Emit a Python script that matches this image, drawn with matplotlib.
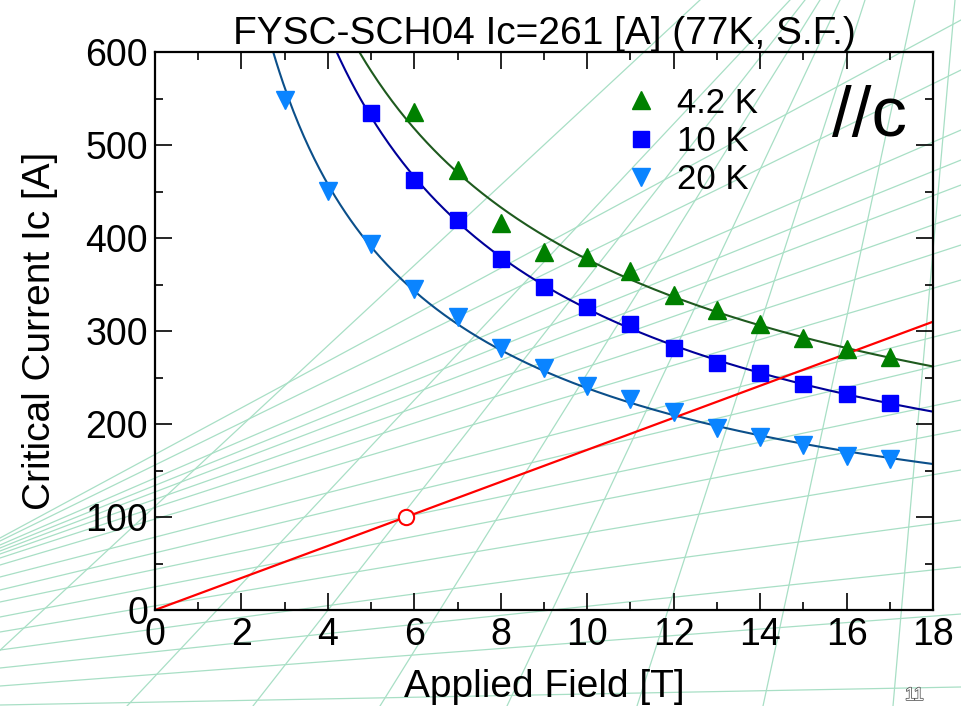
import matplotlib.pyplot as plt
import matplotlib.patheffects as pe
import numpy as np

plt.rcParams['font.family'] = ['Liberation Sans', 'DejaVu Sans']

# Ic(B) measurements, FYSC-SCH04, B // c
field_42 = [6, 7, 8, 9, 10, 11, 12, 13, 14, 15, 16, 17]
ic_42 = [535, 473, 416, 385, 380, 364, 339, 323, 307, 292, 281, 272]

field_10 = [5, 6, 7, 8, 9, 10, 11, 12, 13, 14, 15, 16, 17]
ic_10 = [534, 462, 419, 377, 347, 326, 308, 282, 266, 255, 243, 232, 223]

field_20 = [3, 4, 5, 6, 7, 8, 9, 10, 11, 12, 13, 14, 15, 16, 17]
ic_20 = [548, 451, 394, 345, 315, 282, 260, 241, 227, 213, 196, 186, 177, 166, 162]

# load line and operating point
load_field = [0, 18]
load_ic = [0, 310]
op_field = [5.8]
op_ic = [100]

# slide background grid (pixel coords of the 961x706 canvas)
grid_a_left = [538, 541, 545, 548, 551, 554, 558, 565, 577, 590, 602, 617, 632, 650, 668, 686, 705]
grid_a_right = [20, 70, 130, 160, 185, 215, 245, 280, 330, 360, 400, 430, 470, 520, 567, 614, 687]
grid_b_bottom = [-60, 127, 253, 380, 507, 637, 763, 893]
grid_b_top = [700, 790, 805, 820, 840, 865, 915, 955]

fig = plt.figure(figsize=(9.61, 7.06), dpi=100)

bg = fig.add_axes([0, 0, 1, 1], zorder=-1)
bg.set_xlim(0, 961)
bg.set_ylim(706, 0)
bg.axis('off')
for yl, yr in zip(grid_a_left, grid_a_right):
    bg.plot([0, 961], [yl, yr], color='#a8dfc5', lw=0.9)
for xb, xt in zip(grid_b_bottom, grid_b_top):
    bg.plot([xb, xt], [706, 0], color='#a8dfc5', lw=0.9)
bg.text(905, 704, '11', fontsize=13, color='white', va='bottom', ha='left',
        path_effects=[pe.withStroke(linewidth=1.0, foreground='#444444')])

ax = fig.add_axes([155 / 961, 1 - 610 / 706, 778 / 961, 558 / 706])
ax.set_facecolor('none')

curve = np.linspace(2, 18, 400)
series = [
    (field_42, ic_42, '^', '#008000', '#1e5a1e', '4.2 K', 13),
    (field_10, ic_10, 's', '#0000ff', '#000099', '10 K', 12),
    (field_20, ic_20, 'v', '#0a84ff', '#0b4f8a', '20 K', 13),
]
for b, ic, mk, mc, lc, lab, ms in series:
    # power-law fit Ic = A * B^-alpha
    p = np.polyfit(np.log(b), np.log(ic), 1)
    ax.plot(curve, np.exp(np.polyval(p, np.log(curve))), color=lc, lw=1.5, zorder=2)
    ax.plot(b, ic, mk, color=mc, ms=ms, mec=mc, label=lab, zorder=3, ls='none')

ax.plot(load_field, load_ic, color='#ff0000', lw=1.6, zorder=2)
ax.plot(op_field, op_ic, 'o', mfc='white', mec='#ff0000', mew=1.5, ms=11, zorder=4)

ax.set_xlim(0, 18)
ax.set_ylim(0, 600)
ax.set_xticks(range(0, 19, 2))
ax.set_xticks(range(0, 19, 1), minor=True)
ax.set_yticks(range(0, 601, 100))
ax.set_yticks(range(0, 601, 50), minor=True)
ax.tick_params(which='both', direction='in', top=True, right=True, width=1.2, labelsize=27)
ax.tick_params(which='major', length=12, pad=5)
ax.tick_params(which='minor', length=6)
for s in ax.spines.values():
    s.set_linewidth(1.6)

ax.set_title('FYSC-SCH04 Ic=261 [A] (77K, S.F.)', fontsize=28, pad=2)
ax.set_xlabel('Applied Field [T]', fontsize=28)
ax.set_ylabel('Critical Current Ic [A]', fontsize=28)
ax.xaxis.set_label_coords(0.5, -0.106)
ax.yaxis.set_label_coords(-0.125, 0.5)

ax.text(0.919, 0.882, '//c', fontsize=51, ha='center', va='center', transform=ax.transAxes)

ax.legend(loc='upper left', bbox_to_anchor=(0.584, 0.963), frameon=False, fontsize=25,
          handlelength=1.0, handletextpad=0.55, labelspacing=0.15, borderaxespad=0)

fig.savefig('out.png', dpi=100)
